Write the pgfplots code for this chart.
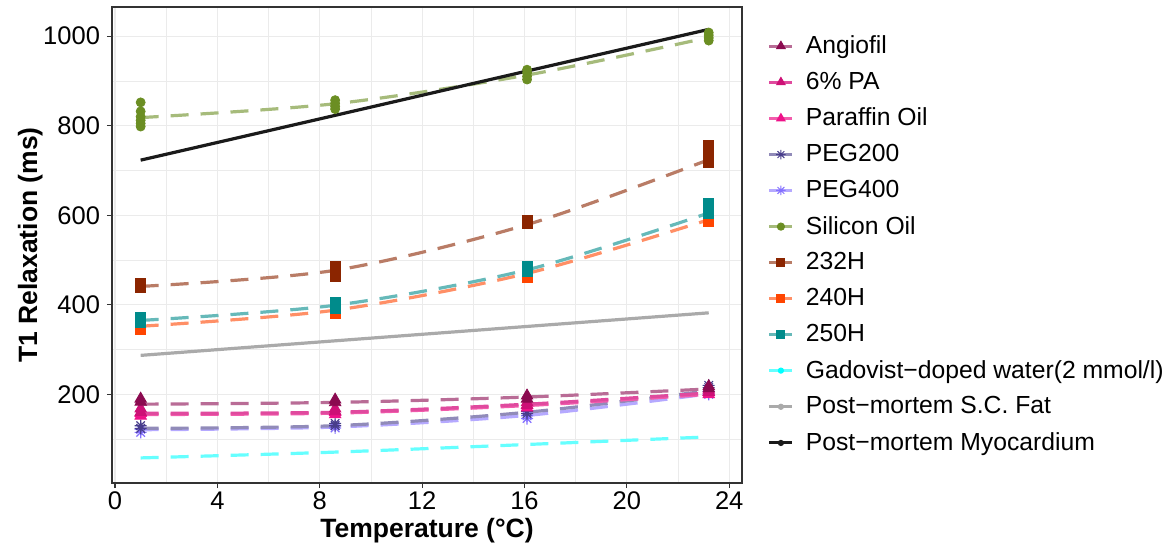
\documentclass[border=0pt]{standalone}
\usepackage{fontspec}
\setmainfont{Liberation Sans}
\usepackage{pgfplots}
\pgfplotsset{compat=1.18}

% point colours and the lighter line colours (ggplot alpha)
\definecolor{angP}{HTML}{8B0A50}\definecolor{angL}{HTML}{B96C96}
\definecolor{paP}{HTML}{CD1076}\definecolor{paL}{HTML}{E04A9E}
\definecolor{parP}{HTML}{EE1289}\definecolor{parL}{HTML}{F25CAC}
\definecolor{p2P}{HTML}{483D8B}\definecolor{p2L}{HTML}{918BB9}
\definecolor{p4P}{HTML}{8470FF}\definecolor{p4L}{HTML}{B5A9FF}
\definecolor{silP}{HTML}{6B8E23}\definecolor{silL}{HTML}{A6BB7B}
\definecolor{h232P}{HTML}{8B2500}\definecolor{h232L}{HTML}{B97C66}
\definecolor{h240P}{HTML}{FF4500}\definecolor{h240L}{HTML}{FF8F66}
\definecolor{h250P}{HTML}{008B8B}\definecolor{h250L}{HTML}{66B9B9}
\definecolor{gadL}{HTML}{66FFFF}\definecolor{gadP}{HTML}{00FFFF}
\definecolor{fatL}{HTML}{AAAAAA}
\definecolor{myoL}{HTML}{1A1A1A}
\definecolor{gridc}{HTML}{EBEBEB}

% ggplot shape 8
\pgfdeclareplotmark{ast8}{%
  \pgfpathmoveto{\pgfqpoint{-\pgfplotmarksize}{0pt}}\pgfpathlineto{\pgfqpoint{\pgfplotmarksize}{0pt}}%
  \pgfpathmoveto{\pgfqpoint{0pt}{-\pgfplotmarksize}}\pgfpathlineto{\pgfqpoint{0pt}{\pgfplotmarksize}}%
  \pgfpathmoveto{\pgfqpoint{-.707\pgfplotmarksize}{-.707\pgfplotmarksize}}\pgfpathlineto{\pgfqpoint{.707\pgfplotmarksize}{.707\pgfplotmarksize}}%
  \pgfpathmoveto{\pgfqpoint{-.707\pgfplotmarksize}{.707\pgfplotmarksize}}\pgfpathlineto{\pgfqpoint{.707\pgfplotmarksize}{-.707\pgfplotmarksize}}%
  \pgfusepathqstroke}

\newcommand{\legimg}[4]{% line colour, mark colour, mark, mark size
  \addlegendimage{legend image code/.code={%
    \draw[#1,line width=1.5bp] (0bp,0bp) -- (11.5bp,0bp);
    \draw[#2,fill=#2,line width=0.5bp] plot[only marks,mark=#3,mark size=#4] coordinates {(5.75bp,0bp)};}}}

\pgfplotsset{
  fitline/.style={smooth,line width=1.6bp,dash pattern=on 9bp off 6bp,no marks,forget plot},
  solidline/.style={line width=1.6bp,no marks,forget plot},
  pts/.style={only marks,forget plot},
}

\begin{document}
\begin{tikzpicture}
\useasboundingbox (0bp,0bp) rectangle (586.5bp,272.5bp);
\begin{axis}[
  at={(56bp,31bp)}, anchor=south west,
  scale only axis, width=315bp, height=238bp,
  xmin=-0.12, xmax=24.5, ymin=2, ymax=1065,
  xtick={0,4,...,24}, ytick={200,400,...,1000},
  minor xtick={2,6,...,22}, minor ytick={100,300,...,900},
  grid=both,
  major grid style={gridc,line width=0.6bp},
  minor grid style={gridc,line width=0.3bp},
  axis line style={black!80,line width=0.6bp},
  tick style={black!80,line width=0.6bp},
  major tick length=2.5bp, minor tick length=0pt,
  tick align=outside, xtick pos=bottom, ytick pos=left,
  /pgf/number format/assume math mode=true,
  /pgf/number format/1000 sep={},
  ticklabel style={font=\fontsize{12.8}{14}\selectfont,text=black},
  xticklabel style={yshift=1.5bp},
  xlabel={\bfseries Temperature (°C)},
  ylabel={\bfseries T1 Relaxation (ms)},
  label style={font=\fontsize{13.3}{15}\selectfont},
  xlabel style={yshift=2.5bp},
  ylabel style={yshift=-6.5bp},
  legend cell align=left,
  legend style={draw=none,fill=none,at={(1.031,0.949)},anchor=north west,
    font=\fontsize{12.4}{14}\selectfont,row sep=7.8bp,column sep=4bp,
    nodes={inner sep=0bp, inner xsep=2bp}},
]
% ---- dashed fits and solid references ----
\addplot[fitline,silL] coordinates {(1,818)(8.6,849)(16.1,913)(23.2,997)};
\addplot[fitline,h232L] coordinates {(1,441)(8.6,477)(16.1,579)(23.2,724)};
\addplot[fitline,h240L] coordinates {(1,352)(8.6,388)(16.1,470)(23.2,590)};
\addplot[fitline,h250L] coordinates {(1,365)(8.6,399)(16.1,478)(23.2,605)};
\addplot[solidline,fatL] coordinates {(1,287)(23.2,382)};
\addplot[solidline,myoL] coordinates {(1,723)(8.6,823)(16.1,922)(23.2,1015)};
\addplot[fitline,gadL] coordinates {(1,58)(8.6,71)(16.1,88)(23.2,105)};
\addplot[fitline,p4L] coordinates {(1,121)(8.6,127)(16.1,153)(23.2,201)};
\addplot[fitline,p2L] coordinates {(1,124)(8.6,130)(16.1,160)(23.2,208)};
\addplot[fitline,parL] coordinates {(1,155)(8.6,158)(16.1,175)(23.2,200)};
\addplot[fitline,paL] coordinates {(1,158)(8.6,160)(16.1,178)(23.2,203)};
\addplot[fitline,angL] coordinates {(1,178)(8.6,182)(16.1,194)(23.2,212)};
% ---- measured points ----
\addplot[pts,mark=*,mark size=2.25bp,silP] coordinates {
  (1,852)(1,832)(1,820)(1,812)(1,805)(1,798)
  (8.6,857)(8.6,850)(8.6,843)(8.6,837)
  (16.1,925)(16.1,918)(16.1,910)(16.1,903)
  (23.2,1008)(23.2,1002)(23.2,996)(23.2,990)};
\addplot[pts,mark=square*,mark size=2.5bp,h232P] coordinates {
  (1,447)(1,438)(8.6,485)(8.6,471)(8.6,464)(16.1,589)(16.1,581)
  (23.2,755)(23.2,735)(23.2,718)};
\addplot[pts,mark=square*,mark size=2.5bp,h240P] coordinates {
  (1,345)(1,348)(8.6,380)(8.6,383)(16.1,462)(16.1,466)(23.2,587)(23.2,590)};
\addplot[pts,mark=square*,mark size=2.5bp,h250P] coordinates {
  (1,372)(1,360)(8.6,405)(8.6,393)(16.1,486)(16.1,474)(23.2,627)(23.2,612)(23.2,605)};
\addplot[pts,mark=ast8,mark size=3bp,line width=0.6bp,p4P] coordinates {
  (1,122)(1,115)(8.6,130)(8.6,125)(16.1,152)(16.1,146)(23.2,207)(23.2,200)};
\addplot[pts,mark=ast8,mark size=3bp,line width=0.6bp,p2P] coordinates {
  (1,130)(1,124)(8.6,135)(8.6,130)(16.1,162)(16.1,157)(23.2,220)(23.2,215)};
\addplot[pts,mark=triangle*,mark size=3.3bp,parP] coordinates {
  (1,158)(1,152)(8.6,160)(8.6,155)(16.1,175)(16.1,170)(23.2,205)(23.2,200)};
\addplot[pts,mark=triangle*,mark size=3.3bp,paP] coordinates {
  (1,168)(1,160)(8.6,168)(8.6,162)(16.1,182)(16.1,176)(23.2,210)(23.2,205)};
\addplot[pts,mark=triangle*,mark size=3.3bp,angP] coordinates {
  (1,190)(1,183)(8.6,188)(8.6,182)(16.1,197)(16.1,190)(23.2,218)(23.2,213)};
% ---- legend ----
\legimg{angL}{angP}{triangle*}{2.4bp}\addlegendentry{Angiofil}
\legimg{paL}{paP}{triangle*}{2.4bp}\addlegendentry{6\% PA}
\legimg{parL}{parP}{triangle*}{2.4bp}\addlegendentry{Paraffin Oil}
\legimg{p2L}{p2P}{ast8}{2.4bp}\addlegendentry{PEG200}
\legimg{p4L}{p4P}{ast8}{2.4bp}\addlegendentry{PEG400}
\legimg{silL}{silP}{*}{1.8bp}\addlegendentry{Silicon Oil}
\legimg{h232L}{h232P}{square*}{2bp}\addlegendentry{232H}
\legimg{h240L}{h240P}{square*}{2bp}\addlegendentry{240H}
\legimg{h250L}{h250P}{square*}{2bp}\addlegendentry{250H}
\legimg{gadL}{gadP}{*}{1.3bp}\addlegendentry{Gadovist−doped water(2 mmol/l)}
\legimg{fatL}{fatL}{*}{1.3bp}\addlegendentry{Post−mortem S.C. Fat}
\legimg{myoL}{myoL}{*}{1.3bp}\addlegendentry{Post−mortem Myocardium}
\end{axis}
\end{tikzpicture}
\end{document}
